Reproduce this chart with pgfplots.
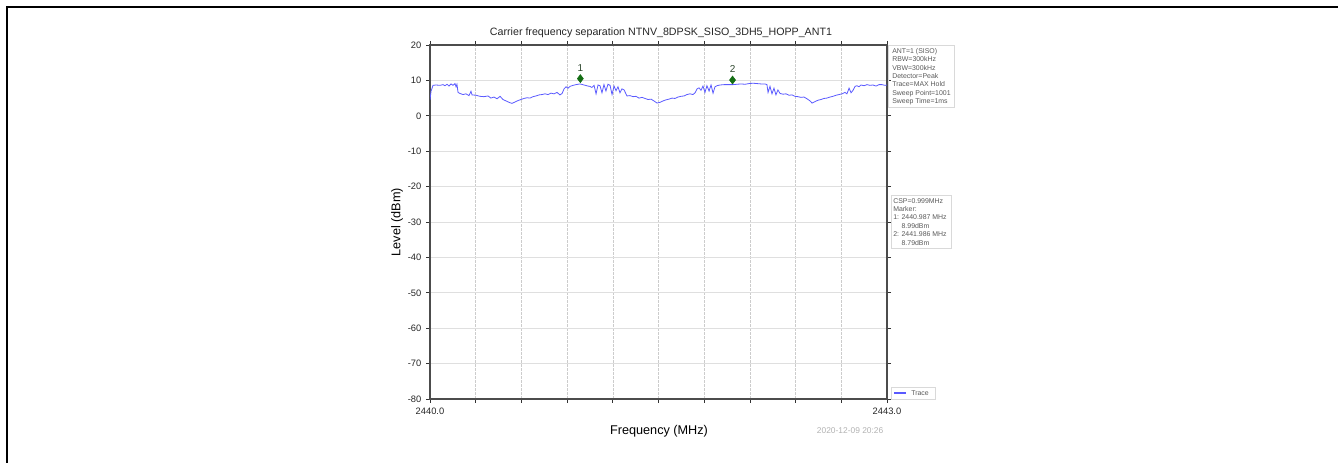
\documentclass[border=0pt]{standalone}
\usepackage{fontspec}
\setmainfont{Liberation Sans}
\usepackage{pgfplots}
\pgfplotsset{compat=1.18}
\definecolor{tracec}{RGB}{90,90,255}
\definecolor{mkc}{RGB}{20,110,20}
\definecolor{lblc}{RGB}{45,70,45}
\begin{document}
\begin{tikzpicture}
\path[use as bounding box] (0pt,0pt) rectangle (1003.5pt,347.25pt);
\begin{axis}[
  at={(322.5pt,48pt)}, anchor=south west,
  width=342.75pt, height=265.5pt, scale only axis,
  xmin=2440, xmax=2443, ymin=-80, ymax=20,
  xtick={2440,2440.3,2440.6,2440.9,2441.2,2441.5,2441.8,2442.1,2442.4,2442.7,2443},
  xticklabels={2440.0,,,,,,,,,,2443.0},
  ytick={-80,-70,-60,-50,-40,-30,-20,-10,0,10,20},
  /pgf/number format/assume math mode=true,
  tick label style={font=\fontsize{7}{8}\selectfont, text=black!85},
  tick align=outside, major tick length=3pt,
  tick style={black!80, line width=0.6pt},
  axis line style={black!70, line width=0.8pt},
  grid=major,
  x grid style={dash pattern=on 2pt off 1pt, gray!40, line width=0.4pt},
  y grid style={gray!25, line width=0.5pt},
  clip=true,
]
\addplot[tracec, line width=0.6pt] coordinates {
(2440.000,4.5) (2440.007,7.0) (2440.020,8.6) (2440.039,8.7) (2440.066,8.6)
(2440.085,8.8) (2440.098,8.5) (2440.112,8.9) (2440.125,8.4) (2440.138,9.0)
(2440.151,8.6) (2440.164,9.1) (2440.171,8.2) (2440.177,8.9) (2440.184,6.6)
(2440.197,6.3) (2440.217,6.0) (2440.236,6.2) (2440.256,5.7) (2440.269,6.9)
(2440.276,5.9) (2440.302,5.8) (2440.328,5.5) (2440.354,5.4) (2440.381,5.6)
(2440.400,5.0) (2440.420,5.3) (2440.440,4.8) (2440.460,5.5) (2440.479,4.6)
(2440.499,4.2) (2440.519,3.8) (2440.538,3.5) (2440.558,3.9) (2440.578,4.3)
(2440.597,4.6) (2440.617,4.9) (2440.637,5.1) (2440.656,5.0) (2440.676,5.4)
(2440.696,5.6) (2440.716,5.9) (2440.735,6.0) (2440.755,6.2) (2440.775,6.0)
(2440.794,6.4) (2440.814,6.2) (2440.834,6.6) (2440.853,5.9) (2440.867,6.3)
(2440.880,7.6) (2440.893,8.2) (2440.906,7.8) (2440.919,8.3) (2440.939,8.6)
(2440.958,8.8) (2440.985,9.0) (2441.011,8.7) (2441.037,8.4) (2441.050,8.3)
(2441.063,8.0) (2441.077,8.6) (2441.090,6.2) (2441.103,8.7) (2441.116,8.5)
(2441.129,6.5) (2441.142,8.8) (2441.155,7.0) (2441.168,8.9) (2441.182,8.6)
(2441.195,6.0) (2441.208,8.4) (2441.221,7.1) (2441.234,8.2) (2441.247,6.5)
(2441.260,7.6) (2441.274,7.3) (2441.293,5.6) (2441.313,5.7) (2441.333,5.4)
(2441.352,5.5) (2441.372,5.0) (2441.392,5.2) (2441.411,4.9) (2441.431,4.6)
(2441.451,4.7) (2441.470,4.2) (2441.490,3.6) (2441.510,3.8) (2441.530,4.2)
(2441.549,4.5) (2441.569,4.7) (2441.589,5.0) (2441.608,4.9) (2441.628,5.3)
(2441.648,5.5) (2441.667,5.6) (2441.687,6.0) (2441.707,6.2) (2441.726,6.0)
(2441.740,6.5) (2441.753,7.6) (2441.766,7.9) (2441.779,7.2) (2441.792,8.4)
(2441.805,6.6) (2441.818,8.5) (2441.832,7.0) (2441.845,8.7) (2441.858,6.4)
(2441.871,8.2) (2441.884,8.5) (2441.904,8.7) (2441.930,8.8) (2441.956,8.8)
(2441.989,8.8) (2442.015,8.9) (2442.042,9.0) (2442.068,8.9) (2442.094,9.1)
(2442.120,9.2) (2442.147,9.1) (2442.173,9.0) (2442.199,9.0) (2442.212,8.8)
(2442.219,6.6) (2442.232,8.3) (2442.245,6.2) (2442.258,7.8) (2442.271,5.9)
(2442.284,7.3) (2442.298,6.3) (2442.317,6.1) (2442.337,6.2) (2442.357,5.8)
(2442.376,5.9) (2442.396,5.5) (2442.416,5.4) (2442.435,5.2) (2442.455,5.3)
(2442.475,4.8) (2442.495,4.2) (2442.508,3.6) (2442.527,4.0) (2442.547,4.4)
(2442.567,4.6) (2442.586,4.9) (2442.606,5.0) (2442.626,5.3) (2442.646,5.5)
(2442.665,5.8) (2442.685,6.0) (2442.705,6.2) (2442.724,6.6) (2442.737,6.2)
(2442.751,7.8) (2442.764,6.5) (2442.777,7.2) (2442.790,8.3) (2442.803,8.5)
(2442.816,8.2) (2442.829,8.7) (2442.849,8.5) (2442.869,8.8) (2442.888,8.6)
(2442.908,8.7) (2442.928,8.4) (2442.947,8.8) (2442.967,8.8) (2442.987,8.6)
(2443.000,8.7)
};
\addplot[only marks, mark=diamond*, mark size=3pt, color=mkc] coordinates {
(2440.987,10.5) (2441.986,10.1)
};
\node[font=\fontsize{7.5}{8}\selectfont, text=lblc] at (axis cs:2440.987,13.6) {1};
\node[font=\fontsize{7.5}{8}\selectfont, text=lblc] at (axis cs:2441.986,13.2) {2};
\end{axis}
\begin{scope}[x=0.75pt,y=0.75pt]
\draw[line width=1.5pt] (7,0) -- (7,455.5) -- (1338,455.5);
% title
\node[font=\fontsize{8}{9}\selectfont, text=black!85] at (661,430) {Carrier frequency separation NTNV\_8DPSK\_SISO\_3DH5\_HOPP\_ANT1};
% axis labels
\node[font=\fontsize{9.5}{10}\selectfont, rotate=90] at (397,241) {Level (dBm)};
\node[font=\fontsize{9.5}{10}\selectfont] at (659,32) {Frequency (MHz)};
\node[font=\fontsize{6.3}{7}\selectfont, text=gray!60, anchor=east] at (888,32) {2020-12-09 20:26};
% info box 1
\draw[gray!30, line width=0.5pt] (888,356) rectangle (954,418);
\node[font=\fontsize{5.2}{6.3}\selectfont, text=black!65, anchor=north west, align=left, inner sep=0pt] at (892,415) {ANT=1 (SISO)\\RBW=300kHz\\VBW=300kHz\\Detector=Peak\\Trace=MAX Hold\\Sweep Point=1001\\Sweep Time=1ms};
% info box 2
\draw[gray!30, line width=0.5pt] (891,215) rectangle (951,268);
\node[font=\fontsize{5.2}{6.3}\selectfont, text=black!65, anchor=north west, align=left, inner sep=0pt] at (893,265) {CSP=0.999MHz\\Marker:\\1: 2440.987 MHz\\\hphantom{1: }8.99dBm\\2: 2441.986 MHz\\\hphantom{1: }8.79dBm};
% legend
\draw[gray!30, line width=0.5pt] (891,64) rectangle (935,76);
\draw[tracec, line width=0.8pt] (894,70) -- (906,70);
\node[font=\fontsize{5.2}{6}\selectfont, text=black!65, anchor=west, inner sep=0pt] at (911,70) {Trace};
\end{scope}
\end{tikzpicture}
\end{document}
